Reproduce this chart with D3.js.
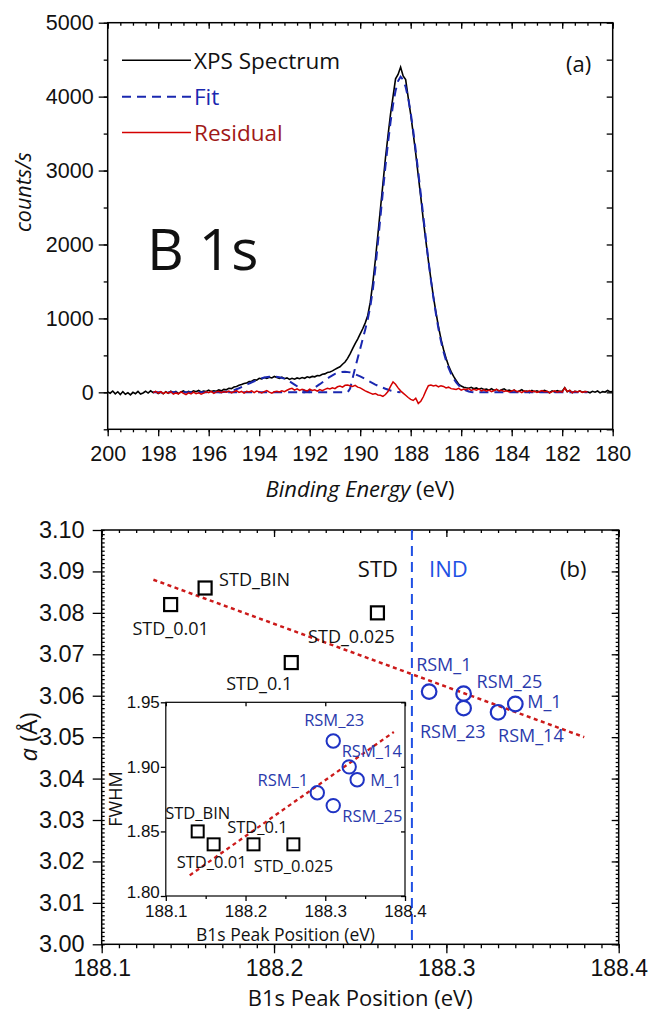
<!DOCTYPE html>
<html>
<head>
<meta charset="utf-8">
<script src="https://cdn.jsdelivr.net/npm/d3@7"></script>
<style>
  body { margin: 0; background: #fff; }
  svg { font-family: "Open Sans", sans-serif; }
  .tick line { stroke: #000; stroke-width: 1.3; }
  .tick text { fill: #111; }
</style>
</head>
<body>
<script>
// ---------- panel (a): B 1s spectrum ----------
// spectrum sampled every 0.1 eV from 200.0 eV down to 180.0 eV
const spectrumStart = 200.0, spectrumStep = 0.1;
const spectrumCounts = [
  5, -12, 18, -20, 8, -30, 10, -25, -5, -35,
  0, -18, 12, -22, -8, 15, -10, 20, -5, 10,
  -15, 5, -20, 8, -12, 15, -5, 12, -18, 6,
  18, -4, 14, 2, 20, 8, 25, 5, 18, 12,
  28, 10, 22, 15, 32, 20, 40, 35, 55, 50,
  72, 80, 95, 105, 120, 125, 145, 150, 170, 165,
  190, 182, 200, 188, 205, 195, 215, 200, 190, 205,
  185, 195, 175, 190, 178, 195, 185, 200, 190, 210,
  200, 215, 210, 228, 225, 245, 250, 268, 275, 290,
  310, 330, 345, 380, 410, 460, 520, 590, 660, 720,
  790, 860, 940, 1040, 1220, 1480, 1790, 2130, 2480, 2820,
  3170, 3470, 3760, 4000, 4240, 4300, 4400, 4280, 4230, 3990,
  3760, 3500, 3230, 2930, 2640, 2330, 2050, 1780, 1530, 1290,
  1080, 890, 720, 580, 460, 360, 280, 215, 160, 110,
  85, 70, 62, 55, 68, 48, 60, 42, 55, 38,
  45, 30, 50, 25, 40, 20, 35, 48, 22, 30,
  15, 28, 5, 20, 35, 10, 18, -2, 25, 8,
  20, 4, 15, 28, 12, -5, 18, 6, 22, 10,
  16, 62, 8, 24, -4, 14, 6, 20, 2, 12,
  8, -6, 14, 2, 18, -8, 10, 4, 25, 6,
  12
];

// residual sampled every 0.1 eV from 198.2 eV down to 181.0 eV
const residualStart = 198.2, residualStep = 0.1;
const residualCounts = [
  -5, 12, -10, 8, -18, 3, -12, 10, -25, -8,
  -20, 5, -15, -30, -8, -22, 4, -18, -5, -25,
  -10, 8, -5, 12, -15, 6, 15, -3, 10, 2,
  18, -6, 8, 22, 0, 12, -10, 14, 5, 20,
  -4, 16, 6, -8, 10, 24, 2, -12, 8, 15,
  4, 20, 10, 28, 45, 55, 30, 48, 25, 40,
  30, 18, 42, 25, 35, 15, 38, 22, 40, 55,
  45, 60, 50, 75, 85, 70, 95, 100, 90, 80,
  95, 70, 60, 40, 20, 5, -10, -25, -15, -35,
  -40, -55, -30, 10, 80, 140, 110, 60, 20, -10,
  -40, -70, -95, -110, -80, -150, -120, -60, 20, 90,
  100, 85, 95, 75, 90, 80, 60, 70, 50, 45,
  40, 55, 30, 45, 35, 50, 25, 40, 30, 45,
  20, 35, 15, 30, 10, 25, 40, 18, 28, 12,
  22, 5, 18, 30, 8, 15, -5, 20, 10, 25,
  5, 18, -2, 12, 25, 8, 15, -8, 10, 20,
  3, 14, 2, 60, 10, 25, -5, 15, 5, 18,
  0, 12, 5
];

// fit components (the main peak carries the zero baseline over the whole fit range)
const fitMainEnergy = [198.2, 190.5,
  190.4, 190.3, 190.2, 190.1, 190.0, 189.9, 189.8, 189.7, 189.6, 189.5,
  189.4, 189.3, 189.2, 189.1, 189.0, 188.9, 188.8, 188.7, 188.6, 188.5,
  188.4, 188.3, 188.2, 188.1, 188.0, 187.9, 187.8, 187.7, 187.6, 187.5,
  187.4, 187.3, 187.2, 187.1, 187.0, 186.9, 186.8, 186.7, 186.6, 186.5,
  186.4, 186.3, 186.2, 186.1, 186.0, 185.9, 185.8, 185.7, 185.6, 185.5,
  181.0];
const fitMainCounts = [0, 0,
  50, 190, 330, 460, 590, 720, 850, 990, 1160, 1390,
  1680, 2020, 2370, 2720, 3060, 3370, 3650, 3890, 4080, 4210,
  4270, 4230, 4130, 3980, 3780, 3540, 3270, 2980, 2680, 2380,
  2080, 1790, 1520, 1280, 1060, 860, 690, 550, 430, 330,
  250, 185, 135, 95, 65, 42, 25, 12, 5, 0,
  0];
const fitLowEnergy = [195.6, 195.4, 195.2, 195.0, 194.8, 194.6, 194.4, 194.2, 194.0,
  193.8, 193.6, 193.4, 193.2, 193.0, 192.8, 192.6, 192.4, 192.2, 192.1, 192.0];
const fitLowCounts = [0, 5, 15, 30, 55, 85, 120, 150, 178,
  200, 212, 215, 205, 185, 150, 105, 60, 22, 8, 0];
const fitMidEnergy = [192.3, 192.2, 192.0, 191.8, 191.6, 191.4, 191.2, 191.0, 190.8, 190.6,
  190.4, 190.2, 190.0, 189.8, 189.6, 189.4, 189.2, 189.0, 188.8, 188.6, 188.4];
const fitMidCounts = [0, 0, 25, 65, 110, 160, 210, 250, 272, 280,
  270, 245, 215, 180, 140, 105, 75, 48, 25, 8, 0];

const energyTicks = [200, 198, 196, 194, 192, 190, 188, 186, 184, 182, 180];
const countTicks = [0, 1000, 2000, 3000, 4000, 5000];

// ---------- panel (b): lattice parameter vs B1s peak ----------
const stdNames = ["STD_0.01", "STD_BIN", "STD_0.1", "STD_0.025"];
const stdPeak = [188.14, 188.16, 188.21, 188.26];
const stdLattice = [3.082, 3.086, 3.068, 3.080];
const rsmNames = ["RSM_1", "RSM_25", "RSM_23", "RSM_14", "M_1"];
const rsmPeak = [188.29, 188.31, 188.31, 188.33, 188.34];
const rsmLattice = [3.061, 3.0605, 3.057, 3.056, 3.058];
const latticeFitPeak = [188.13, 188.38];
const latticeFitValue = [3.088, 3.050];
const groupBoundary = 188.28;

// inset: FWHM vs peak
const insetStdNames = ["STD_BIN", "STD_0.01", "STD_0.1", "STD_0.025"];
const insetStdPeak = [188.14, 188.16, 188.21, 188.26];
const insetStdFwhm = [1.85, 1.84, 1.84, 1.84];
const insetRsmNames = ["RSM_1", "RSM_25", "RSM_23", "RSM_14", "M_1"];
const insetRsmPeak = [188.29, 188.31, 188.31, 188.33, 188.34];
const insetRsmFwhm = [1.88, 1.87, 1.92, 1.90, 1.89];
const fwhmFitPeak = [188.13, 188.386];
const fwhmFitValue = [1.816, 1.927];

const peakTicks = [188.1, 188.2, 188.3, 188.4];
const latticeTicks = [3.00, 3.01, 3.02, 3.03, 3.04, 3.05, 3.06, 3.07, 3.08, 3.09, 3.10];
const fwhmTicks = [1.80, 1.85, 1.90, 1.95];

// colours
const blueFit = "#1a28b0", redRes = "#d40000", blueMark = "#1f33c4",
      blueLabel = "#2a3aac", blueLine = "#2050e4", redFit = "#cc1a1a";

const svg = d3.select("body").append("svg")
  .attr("width", 651)
  .attr("height", 1012);

// axis helper: draws ticks only, no domain line
function addAxis(g, axis, values, size, padding, format, fontSize) {
  g.call(axis.tickValues(values).tickSize(size).tickPadding(padding)
    .tickFormat(format || (() => "")));
  g.select(".domain").remove();
  g.selectAll("text").attr("font-size", fontSize || 12);
  return g;
}

//---------------- panel (a)
const xA = d3.scaleLinear().domain([200, 180]).range([107.7, 612.7]);
const yA = d3.scaleLinear().domain([-500, 5000]).range([429.3, 22.7]);
const gA = svg.append("g");

const minorE = d3.range(200, 179.9, -0.5);
const minorC = d3.range(-500, 5001, 500);

addAxis(gA.append("g").attr("transform", "translate(0,429.3)"),
  d3.axisBottom(xA), minorE, 3, 0);
addAxis(gA.append("g").attr("transform", "translate(0,429.3)"),
  d3.axisBottom(xA), energyTicks, 7, 9, d3.format("d"), 21.5);
addAxis(gA.append("g").attr("transform", "translate(0,22.7)"),
  d3.axisBottom(xA), minorE, 3, 0);
addAxis(gA.append("g").attr("transform", "translate(0,22.7)"),
  d3.axisBottom(xA), energyTicks, 6, 0);
addAxis(gA.append("g").attr("transform", "translate(107.7,0)"),
  d3.axisLeft(yA), minorC, 4, 0);
addAxis(gA.append("g").attr("transform", "translate(107.7,0)"),
  d3.axisLeft(yA), countTicks, 9, 5, d3.format("d"), 21.5);
addAxis(gA.append("g").attr("transform", "translate(612.7,0)"),
  d3.axisLeft(yA), minorC, 6, 0);

const lineA = d3.line().x(d => xA(d[0])).y(d => yA(d[1]));
const spectrum = spectrumCounts.map((c, i) => [spectrumStart - i * spectrumStep, c]);
const residual = residualCounts.map((c, i) => [residualStart - i * residualStep, c]);

gA.append("path").datum(spectrum)
  .attr("d", lineA).attr("fill", "none").attr("stroke", "#000").attr("stroke-width", 1.6);

[[fitMainEnergy, fitMainCounts], [fitLowEnergy, fitLowCounts], [fitMidEnergy, fitMidCounts]]
  .forEach(([e, c]) => {
    gA.append("path").datum(d3.zip(e, c))
      .attr("d", lineA).attr("fill", "none")
      .attr("stroke", blueFit).attr("stroke-width", 2)
      .attr("stroke-dasharray", "9,6");
  });

gA.append("path").datum(residual)
  .attr("d", lineA).attr("fill", "none").attr("stroke", redRes).attr("stroke-width", 1.5);

gA.append("rect")
  .attr("x", 107.7).attr("y", 22.7)
  .attr("width", 505).attr("height", 429.3 - 22.7)
  .attr("fill", "none").attr("stroke", "#000").attr("stroke-width", 1.5);

//Legend
const legendA = [
  {name: "XPS Spectrum", color: "#000", text: "#111", dash: null, y: 60.3},
  {name: "Fit", color: blueFit, text: blueFit, dash: "9,6", y: 96.7},
  {name: "Residual", color: redRes, text: "#a01818", dash: null, y: 132.5}
];
legendA.forEach(l => {
  gA.append("line")
    .attr("x1", 122).attr("x2", 191).attr("y1", l.y).attr("y2", l.y)
    .attr("stroke", l.color).attr("stroke-width", l.dash ? 2 : 1.6)
    .attr("stroke-dasharray", l.dash);
  gA.append("text")
    .attr("x", 194).attr("y", l.y).attr("dominant-baseline", "central")
    .attr("font-size", 22.5).attr("fill", l.text).text(l.name);
});

gA.append("text").attr("x", 566).attr("y", 63).attr("dominant-baseline", "central")
  .attr("font-size", 22).attr("fill", "#111").text("(a)");
gA.append("text").attr("x", 147).attr("y", 270)
  .attr("font-size", 57).attr("fill", "#111").text("B 1s");

//Axis titles
gA.append("text")
  .attr("transform", "translate(22,192) rotate(-90)")
  .attr("text-anchor", "middle").attr("dominant-baseline", "central")
  .attr("font-size", 21.5).attr("font-style", "italic").attr("fill", "#111")
  .text("counts/s");
const xtA = gA.append("text").attr("x", 360).attr("y", 488)
  .attr("text-anchor", "middle").attr("dominant-baseline", "central")
  .attr("font-size", 22).attr("fill", "#111");
xtA.append("tspan").attr("font-style", "italic").text("Binding Energy");
xtA.append("tspan").text(" (eV)");

//---------------- panel (b)
const xB = d3.scaleLinear().domain([188.1, 188.4]).range([101.7, 618.7]);
const yB = d3.scaleLinear().domain([3.00, 3.10]).range([944.3, 530]);
const gB = svg.append("g");

const minorP = d3.range(188.1, 188.4001, 0.01);
const minorL = d3.range(3.0, 3.1001, 0.001);

addAxis(gB.append("g").attr("transform", "translate(0,944.3)"),
  d3.axisBottom(xB), minorP, 4, 0);
addAxis(gB.append("g").attr("transform", "translate(0,944.3)"),
  d3.axisBottom(xB), peakTicks, 9, 6, d3.format(".1f"), 23);
addAxis(gB.append("g").attr("transform", "translate(0,530)"),
  d3.axisBottom(xB), minorP, 3, 0);
addAxis(gB.append("g").attr("transform", "translate(0,530)"),
  d3.axisBottom(xB), peakTicks, 7, 0);
addAxis(gB.append("g").attr("transform", "translate(101.7,0)"),
  d3.axisRight(yB), minorL, 3, 0);
addAxis(gB.append("g").attr("transform", "translate(101.7,0)"),
  d3.axisLeft(yB), latticeTicks, 9, 8, d3.format(".2f"), 23.5);
addAxis(gB.append("g").attr("transform", "translate(618.7,0)"),
  d3.axisLeft(yB), minorL, 3, 0);
addAxis(gB.append("g").attr("transform", "translate(618.7,0)"),
  d3.axisLeft(yB), latticeTicks, 7, 0);

gB.append("rect")
  .attr("x", 101.7).attr("y", 530)
  .attr("width", 517).attr("height", 944.3 - 530)
  .attr("fill", "none").attr("stroke", "#000").attr("stroke-width", 1.5);

// STD / IND separator
gB.append("line")
  .attr("x1", xB(groupBoundary)).attr("x2", xB(groupBoundary))
  .attr("y1", 530).attr("y2", 944.3)
  .attr("stroke", blueLine).attr("stroke-width", 2).attr("stroke-dasharray", "10,6");

// linear trend
gB.append("line")
  .attr("x1", xB(latticeFitPeak[0])).attr("y1", yB(latticeFitValue[0]))
  .attr("x2", xB(latticeFitPeak[1])).attr("y2", yB(latticeFitValue[1]))
  .attr("stroke", redFit).attr("stroke-width", 2.5).attr("stroke-dasharray", "4,3.5");

// square markers (STD)
const stdData = stdNames.map((n, i) => ({name: n, x: stdPeak[i], y: stdLattice[i]}));
gB.selectAll(".stdSq").data(stdData).enter().append("rect")
  .attr("x", d => xB(d.x) - 6.5).attr("y", d => yB(d.y) - 6.5)
  .attr("width", 13).attr("height", 13)
  .attr("fill", "none").attr("stroke", "#000").attr("stroke-width", 2.2);

const rsmData = rsmNames.map((n, i) => ({name: n, x: rsmPeak[i], y: rsmLattice[i]}));
gB.selectAll(".rsmC").data(rsmData).enter().append("circle")
  .attr("cx", d => xB(d.x)).attr("cy", d => yB(d.y)).attr("r", 7.3)
  .attr("fill", "none").attr("stroke", blueMark).attr("stroke-width", 2.2);

// point labels: [dx, dy, anchor]
const mainLabelPos = {
  "STD_BIN": [14, -9, "start"], "STD_0.01": [0, 23, "middle"],
  "STD_0.025": [-26, 23, "middle"], "STD_0.1": [1, 20, "end"],
  "RSM_1": [-13, -28, "start"], "RSM_25": [13, -13, "start"],
  "RSM_23": [22, 23, "end"], "RSM_14": [0, 23, "start"], "M_1": [12, -3, "start"]
};
stdData.concat(rsmData).forEach(d => {
  const p = mainLabelPos[d.name];
  gB.append("text")
    .attr("x", xB(d.x) + p[0]).attr("y", yB(d.y) + p[1])
    .attr("text-anchor", p[2]).attr("dominant-baseline", "central")
    .attr("font-size", 18)
    .attr("fill", d.name.startsWith("STD") ? "#111" : blueLabel)
    .text(d.name);
});

gB.append("text").attr("x", 398).attr("y", 568).attr("text-anchor", "end")
  .attr("dominant-baseline", "central").attr("font-size", 22).attr("fill", "#111").text("STD");
gB.append("text").attr("x", 429).attr("y", 568)
  .attr("dominant-baseline", "central").attr("font-size", 22).attr("fill", blueLine).text("IND");
gB.append("text").attr("x", 560).attr("y", 568)
  .attr("dominant-baseline", "central").attr("font-size", 22).attr("fill", "#111").text("(b)");

// axis titles
const ytB = gB.append("text")
  .attr("transform", "translate(27,737) rotate(-90)")
  .attr("text-anchor", "middle").attr("dominant-baseline", "central")
  .attr("font-size", 24).attr("fill", "#111");
ytB.append("tspan").attr("font-style", "italic").text("a");
ytB.append("tspan").text(" (Å)");
gB.append("text").attr("x", 360.2).attr("y", 997)
  .attr("text-anchor", "middle").attr("dominant-baseline", "central")
  .attr("font-size", 22).attr("fill", "#111").text("B1s Peak Position (eV)");

//---------------- inset
const xI = d3.scaleLinear().domain([188.1, 188.4]).range([165.8, 405]);
const yI = d3.scaleLinear().domain([1.80, 1.95]).range([896, 702.3]);
const gI = svg.append("g");

gI.append("rect")
  .attr("x", 165.8).attr("y", 702.3)
  .attr("width", 405 - 165.8).attr("height", 896 - 702.3)
  .attr("fill", "#fff");

addAxis(gI.append("g").attr("transform", "translate(0,896)"),
  d3.axisBottom(xI), [188.15, 188.25, 188.35], 3, 0);
addAxis(gI.append("g").attr("transform", "translate(0,896)"),
  d3.axisBottom(xI), peakTicks, 5, 4, d3.format(".1f"), 17);
addAxis(gI.append("g").attr("transform", "translate(0,702.3)"),
  d3.axisBottom(xI), peakTicks, 4, 0);
addAxis(gI.append("g").attr("transform", "translate(165.8,0)"),
  d3.axisLeft(yI), fwhmTicks, 5, 1, d3.format(".2f"), 17);
addAxis(gI.append("g").attr("transform", "translate(405,0)"),
  d3.axisLeft(yI), fwhmTicks, 4, 0);
// keep the lowest FWHM label clear of the 188.1 label below it
gI.selectAll(".tick text").filter(d => d === 1.80).attr("dy", "0.1em");

gI.append("rect")
  .attr("x", 165.8).attr("y", 702.3)
  .attr("width", 405 - 165.8).attr("height", 896 - 702.3)
  .attr("fill", "none").attr("stroke", "#000").attr("stroke-width", 1.2);

gI.append("line")
  .attr("x1", xI(fwhmFitPeak[0])).attr("y1", yI(fwhmFitValue[0]))
  .attr("x2", xI(fwhmFitPeak[1])).attr("y2", yI(fwhmFitValue[1]))
  .attr("stroke", redFit).attr("stroke-width", 2.3).attr("stroke-dasharray", "4,3.5");

const iStd = insetStdNames.map((n, i) => ({name: n, x: insetStdPeak[i], y: insetStdFwhm[i]}));
const iRsm = insetRsmNames.map((n, i) => ({name: n, x: insetRsmPeak[i], y: insetRsmFwhm[i]}));

gI.selectAll(".iSq").data(iStd).enter().append("rect")
  .attr("x", d => xI(d.x) - 6).attr("y", d => yI(d.y) - 6)
  .attr("width", 12).attr("height", 12)
  .attr("fill", "none").attr("stroke", "#000").attr("stroke-width", 2);
gI.selectAll(".iC").data(iRsm).enter().append("circle")
  .attr("cx", d => xI(d.x)).attr("cy", d => yI(d.y)).attr("r", 6.7)
  .attr("fill", "none").attr("stroke", blueMark).attr("stroke-width", 2);

const insetLabelPos = {
  "STD_BIN": [0, -19, "middle"], "STD_0.01": [-2, 17, "middle"],
  "STD_0.1": [4, -17.6, "middle"], "STD_0.025": [0, 21, "middle"],
  "RSM_1": [-9, -13, "end"], "RSM_25": [9, 10, "start"],
  "RSM_23": [1, -22, "middle"], "RSM_14": [-7.5, -16, "start"], "M_1": [13, 0, "start"]
};
iStd.concat(iRsm).forEach(d => {
  const p = insetLabelPos[d.name];
  gI.append("text")
    .attr("x", xI(d.x) + p[0]).attr("y", yI(d.y) + p[1])
    .attr("text-anchor", p[2]).attr("dominant-baseline", "central")
    .attr("font-size", 16.5)
    .attr("fill", d.name.startsWith("STD") ? "#111" : blueLabel)
    .text(d.name);
});

gI.append("text")
  .attr("transform", "translate(114.6,799) rotate(-90)")
  .attr("text-anchor", "middle").attr("dominant-baseline", "central")
  .attr("font-size", 18).attr("fill", "#111").text("FWHM");
gI.append("text").attr("x", 285.4).attr("y", 934)
  .attr("text-anchor", "middle").attr("dominant-baseline", "central")
  .attr("font-size", 17.5).attr("fill", "#111").text("B1s Peak Position (eV)");
</script>
</body>
</html>
